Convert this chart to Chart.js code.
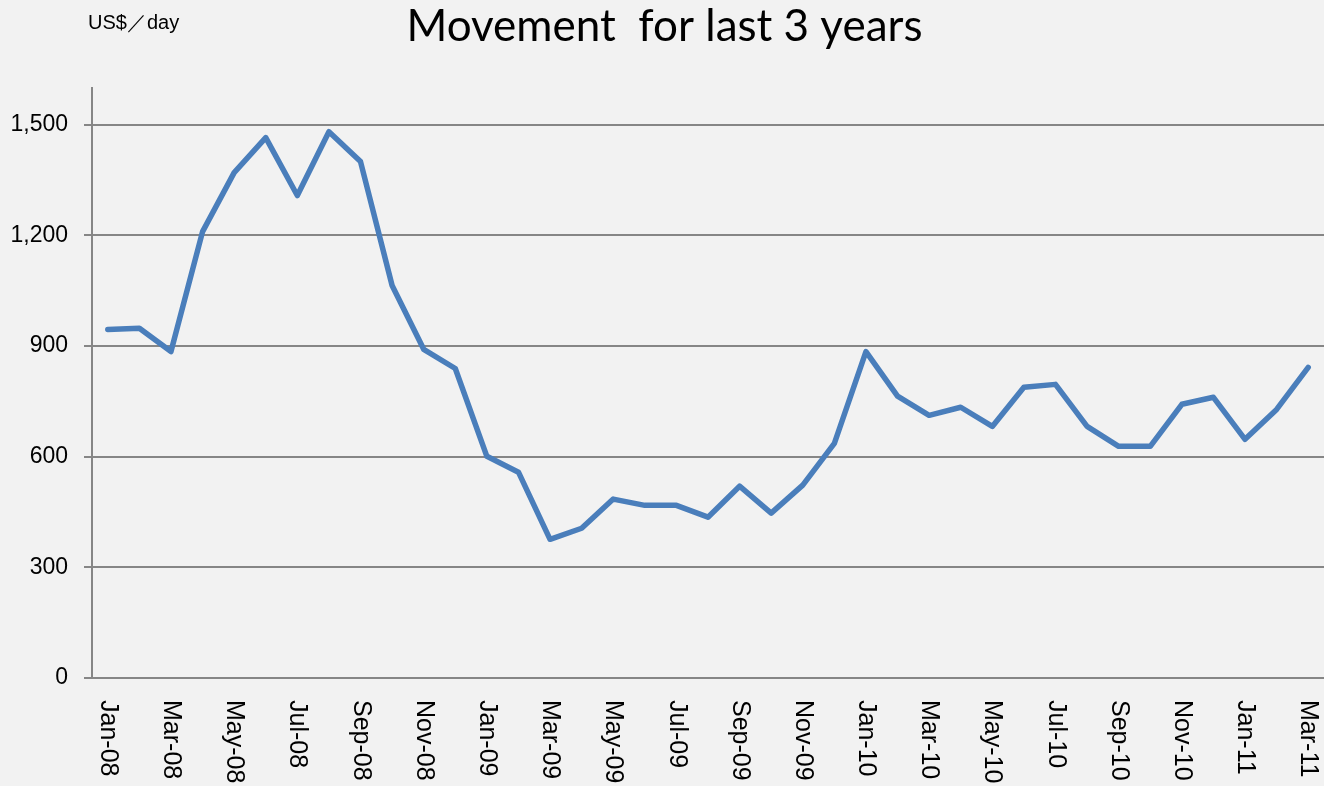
<!DOCTYPE html>
<html>
<head>
<meta charset="utf-8">
<script src="https://cdn.jsdelivr.net/npm/chart.js@4"></script>
<style>
  html, body { margin: 0; padding: 0; background: #f2f2f2; }
  #wrap { width: 1324px; height: 786px; position: relative; }
</style>
</head>
<body>
<div id="wrap"><canvas id="c"></canvas></div>
<script>
const titleText = "Movement  for last 3 years";
const unitText = "US$\uFF0Fday";
const categories = [
  "Jan-08","Feb-08","Mar-08","Apr-08","May-08","Jun-08","Jul-08","Aug-08","Sep-08","Oct-08","Nov-08","Dec-08",
  "Jan-09","Feb-09","Mar-09","Apr-09","May-09","Jun-09","Jul-09","Aug-09","Sep-09","Oct-09","Nov-09","Dec-09",
  "Jan-10","Feb-10","Mar-10","Apr-10","May-10","Jun-10","Jul-10","Aug-10","Sep-10","Oct-10","Nov-10","Dec-10",
  "Jan-11","Feb-11","Mar-11"
];
const values = [
  945, 948, 885, 1210, 1370, 1465, 1308, 1481, 1400, 1064, 891, 839,
  601, 558, 376, 406, 485, 468, 468, 436, 520, 447, 523, 636,
  885, 764, 712, 734, 682, 788, 796, 682, 628, 628, 742, 761,
  647, 728, 842
];
const yTicks = [0, 300, 600, 900, 1200, 1500];
const yMax = 1600;
const labelEvery = 2;

const bgPlugin = {
  id: 'bg',
  beforeDraw(chart) {
    const ctx = chart.ctx;
    ctx.save();
    ctx.fillStyle = '#f2f2f2';
    ctx.fillRect(0, 0, chart.width, chart.height);
    ctx.restore();
  }
};

const textPlugin = {
  id: 'extraText',
  afterDraw(chart) {
    const ctx = chart.ctx;
    const xs = chart.scales.x;
    ctx.save();
    // unit label
    ctx.fillStyle = '#000';
    ctx.font = '20px "Liberation Sans", Arial, sans-serif';
    ctx.textAlign = 'left';
    ctx.textBaseline = 'alphabetic';
    ctx.fillText(unitText, 88, 29);
    // x tick labels rotated clockwise
    ctx.font = '25px "Liberation Sans", Arial, sans-serif';
    ctx.textBaseline = 'middle';
    categories.forEach((lab, i) => {
      if (i % labelEvery !== 0) return;
      const x = xs.getPixelForValue(i);
      ctx.save();
      ctx.translate(x, xs.top + 22);
      ctx.rotate(Math.PI / 2);
      ctx.fillText(lab, 0, 0);
      ctx.restore();
    });
    ctx.restore();
  }
};

new Chart(document.getElementById('c'), {
  type: 'line',
  data: {
    labels: categories,
    datasets: [{
      data: values,
      borderColor: '#4a7ebb',
      borderWidth: 5.5,
      pointRadius: 0,
      tension: 0,
      borderJoinStyle: 'round',
      borderCapStyle: 'round',
      fill: false
    }]
  },
  options: {
    responsive: true,
    maintainAspectRatio: false,
    animation: false,
    layout: { padding: { left: 0, top: 0, bottom: 0, right: -5 } },
    plugins: {
      legend: { display: false },
      tooltip: { enabled: false },
      title: {
        display: true,
        text: titleText,
        color: '#000',
        font: { family: 'Lato, "Open Sans", sans-serif', size: 44, weight: 'normal' },
        padding: { top: 0, bottom: 35 },
        align: 'center'
      }
    },
    scales: {
      x: {
        type: 'category',
        offset: true,
        grid: { display: false, drawTicks: false },
        border: { display: true, color: '#868686', width: 2 },
        ticks: { display: false, autoSkip: false },
        afterFit(scale) { scale.height = 108; }
      },
      y: {
        min: 0,
        max: yMax,
        afterBuildTicks(scale) { scale.ticks = yTicks.map(v => ({ value: v })); },
        grid: { color: '#868686', lineWidth: 2, drawTicks: true, tickLength: 8 },
        border: { display: true, color: '#868686', width: 2 },
        ticks: {
          color: '#000',
          padding: 16,
          font: { family: '"Liberation Sans", Arial, sans-serif', size: 23 },
          callback: (v) => v.toLocaleString('en-US')
        },
        afterFit(scale) { scale.width = 92; }
      }
    }
  },
  plugins: [bgPlugin, textPlugin]
});
</script>
</body>
</html>
